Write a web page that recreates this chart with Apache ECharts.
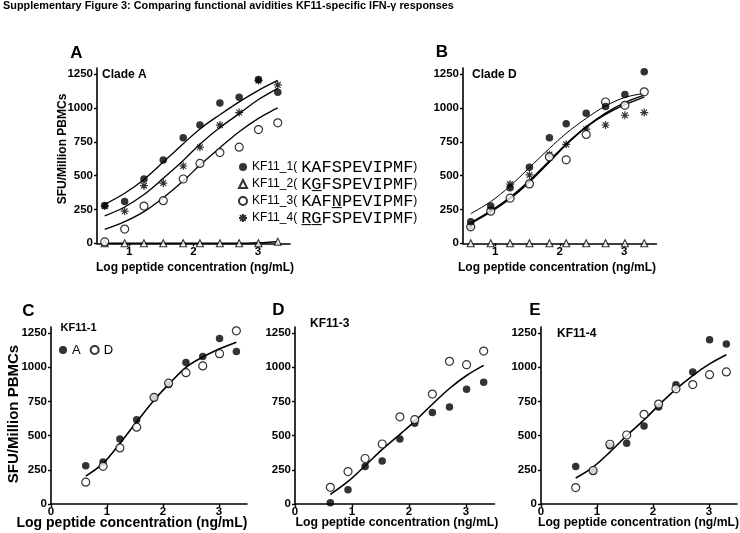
<!DOCTYPE html>
<html><head><meta charset="utf-8">
<script src="https://cdn.jsdelivr.net/npm/echarts@6/dist/echarts.min.js"></script>
<style>html,body{margin:0;padding:0;background:#fff}#c{width:740px;height:533px}</style>
</head><body><div id="c"></div>
<script>
// ---- data ----
const logDose = [0.62, 0.93, 1.23, 1.53, 1.84, 2.1, 2.41, 2.71, 3.01, 3.31];

const cladeA_KF11_1 = [279, 308, 475, 616, 780, 874, 1036, 1079, 1210, 1115];
const cladeA_KF11_2 = [0, 0, 0, 0, 0, 0, 0, 0, 0, 12];
const cladeA_KF11_3 = [10, 105, 275, 315, 475, 590, 670, 710, 840, 890];
const cladeA_KF11_4 = [275, 237, 426, 445, 571, 710, 873, 966, 1202, 1170];

const cladeD_KF11_1 = [160, 276, 410, 562, 780, 884, 961, 1010, 1100, 1267];
const cladeD_KF11_2 = [0, 0, 0, 0, 0, 0, 0, 0, 0, 0];
const cladeD_KF11_3 = [122, 237, 333, 439, 638, 617, 804, 1044, 1019, 1119];
const cladeD_KF11_4 = [120, 245, 437, 505, 656, 731, 843, 874, 946, 966];

// fitted curves at each dose
const fitA_KF11_1 = [288, 370, 472, 600, 735, 845, 950, 1045, 1130, 1203];
const fitA_KF11_2 = [0, 0, 0, 0, 0, 0, 0, 0, 4, 12];
const fitA_KF11_3 = [103, 160, 234, 337, 460, 578, 706, 824, 923, 1001];
const fitA_KF11_4 = [202, 268, 360, 480, 612, 732, 855, 958, 1062, 1145];
const fitD_KF11_1 = [219, 308, 423, 559, 701, 812, 923, 1014, 1078, 1107];
const fitD_KF11_3 = [146, 232, 330, 452, 600, 728, 860, 962, 1040, 1095];
const fitD_KF11_4 = [152, 240, 340, 464, 610, 734, 858, 952, 1024, 1080];
const fitKF11_1 = [204, 297, 443, 601, 759, 875, 1000, 1075, 1136, 1184];
const fitKF11_3 = [70, 165, 280, 400, 510, 605, 730, 845, 940, 1014];
const fitKF11_4 = [190, 270, 380, 500, 615, 722, 840, 940, 1025, 1092];

const yTicks = [0, 250, 500, 750, 1000, 1250];
const xTicksAB = [1, 2, 3];
const xTicksCDE = [0, 1, 2, 3];

const peptideNames = ['KF11_1', 'KF11_2', 'KF11_3', 'KF11_4'];
const peptideSeqs = ['KAFSPEVIPMF', 'KGFSPEVIPMF', 'KAFNPEVIPMF', 'RGFSPEVIPMF'];
const underlinedPos = [[], [1], [3], [0, 1]];
const cladeNames = ['A', 'D'];

// ---- helpers ----
const SANS = 'Liberation Sans, Arial, sans-serif';
const pts = (ys) => logDose.map((x, i) => [x, ys[i]]);
const ASTER = 'path://M0,-5L0,5M-5,0L5,0M-3.6,-3.6L3.6,3.6M-3.6,3.6L3.6,-3.6';

const sym = {
  filled: { symbol: 'circle', symbolSize: 7.5, itemStyle: { color: '#000', borderWidth: 0 } },
  tri: { symbol: 'triangle', symbolSize: 7, itemStyle: { color: '#fff', borderColor: '#000', borderWidth: 1.1 } },
  open: { symbol: 'circle', symbolSize: 8, itemStyle: { color: '#fff', borderColor: '#000', borderWidth: 1.2 } },
  star: { symbol: ASTER, symbolSize: 8, itemStyle: { color: '#000', borderColor: '#000', borderWidth: 1.2 } }
};

function scatter(name, ys, g, s) {
  return Object.assign({ type: 'scatter', name: name, data: pts(ys), xAxisIndex: g, yAxisIndex: g, z: 5, clip: false }, s);
}
function fit(ys, g, w) {
  return { type: 'line', name: 'fit', data: pts(ys), xAxisIndex: g, yAxisIndex: g, smooth: 0.35,
    showSymbol: false, symbol: 'none', lineStyle: { color: '#000', width: w || 1.3 }, z: 3, silent: true };
}

const grids = [
  { left: 97, top: 68, width: 193, height: 175.3 },
  { left: 463, top: 68, width: 193.5, height: 175.3 },
  { left: 51, top: 327, width: 196, height: 177 },
  { left: 295, top: 327, width: 199.5, height: 177 },
  { left: 541, top: 327, width: 196, height: 177 }
].map(g => Object.assign({ containLabel: false, outerBoundsMode: 'none' }, g));

const plain = (v) => String(v);
const axisLine = { show: true, onZero: false, lineStyle: { color: '#000', width: 1.6 } };
function xAxis(i) {
  const ab = i < 2;
  const ticks = ab ? xTicksAB : xTicksCDE;
  return { type: 'value', gridIndex: i, min: ab ? 0.5 : 0, max: 3.5,
    axisLine: axisLine, splitLine: { show: false },
    axisTick: { show: true, length: 3, customValues: ticks, lineStyle: { color: '#000', width: 1.4 } },
    axisLabel: { customValues: ticks, formatter: plain, margin: ab ? 3 : 2, color: '#000', fontWeight: 'bold', fontSize: 11.5, fontFamily: SANS } };
}
function yAxis(i) {
  return { type: 'value', gridIndex: i, min: 0, max: 1295,
    axisLine: axisLine, splitLine: { show: false },
    axisTick: { show: true, length: 3, customValues: yTicks, lineStyle: { color: '#000', width: 1.4 } },
    axisLabel: { customValues: yTicks, formatter: plain, margin: 4, color: '#000', fontWeight: 'bold', fontSize: 11.5, fontFamily: SANS } };
}

const series = [
  // Panel A (clade A)
  fit(fitA_KF11_1, 0), fit(fitA_KF11_2, 0, 1.6), fit(fitA_KF11_3, 0), fit(fitA_KF11_4, 0),
  scatter('KF11_1', cladeA_KF11_1, 0, sym.filled),
  scatter('KF11_2', cladeA_KF11_2, 0, sym.tri),
  scatter('KF11_3', cladeA_KF11_3, 0, sym.open),
  scatter('KF11_4', cladeA_KF11_4, 0, sym.star),
  // Panel B (clade D)
  fit(fitD_KF11_1, 1, 1.0), fit(fitD_KF11_3, 1, 1.4), fit(fitD_KF11_4, 1, 1.4),
  scatter('KF11_2', cladeD_KF11_2, 1, sym.tri),
  scatter('KF11_4', cladeD_KF11_4, 1, sym.star),
  scatter('KF11_3', cladeD_KF11_3, 1, sym.open),
  scatter('KF11_1', cladeD_KF11_1, 1, sym.filled),
  // Panel C KF11-1
  fit(fitKF11_1, 2, 1.6),
  scatter(cladeNames[0], cladeA_KF11_1, 2, sym.filled),
  scatter(cladeNames[1], cladeD_KF11_1, 2, sym.open),
  // Panel D KF11-3
  fit(fitKF11_3, 3, 1.6),
  scatter(cladeNames[0], cladeA_KF11_3, 3, sym.filled),
  scatter(cladeNames[1], cladeD_KF11_3, 3, sym.open),
  // Panel E KF11-4
  fit(fitKF11_4, 4, 1.6),
  scatter(cladeNames[0], cladeA_KF11_4, 4, sym.filled),
  scatter(cladeNames[1], cladeD_KF11_4, 4, sym.open)
];

function seqText(i) {
  let out = '';
  const s = peptideSeqs[i];
  for (let k = 0; k < s.length; k++) out += s[k] + (underlinedPos[i].indexOf(k) >= 0 ? '\u0332' : '');
  return out;
}

function txt(x, y, text, size, opts) {
  return Object.assign({ type: 'text', x: x, y: y, silent: true,
    style: Object.assign({ text: text, fill: '#000', fontFamily: SANS, fontSize: size, fontWeight: 'bold',
      align: 'center', verticalAlign: 'middle' }, (opts && opts.style) || {}) },
    (opts && opts.rotation) ? { rotation: opts.rotation } : {});
}

const graphics = [
  txt(3, 6, 'Supplementary Figure 3: Comparing functional avidities KF11-specific IFN-\u03b3 responses', 10.9, { style: { align: 'left' } }),
  txt(76.5, 53, 'A', 17), txt(442, 52.5, 'B', 17), txt(28.5, 311.5, 'C', 17), txt(278.5, 310.5, 'D', 17), txt(535, 310.5, 'E', 17),
  txt(102, 74.5, 'Clade A', 12, { style: { align: 'left' } }),
  txt(472, 75, 'Clade D', 12, { style: { align: 'left' } }),
  txt(60.5, 327.5, 'KF11-1', 11, { style: { align: 'left' } }),
  txt(310, 324, 'KF11-3', 12, { style: { align: 'left' } }),
  txt(557, 334, 'KF11-4', 12, { style: { align: 'left' } }),
  txt(63, 149, 'SFU/Million PBMCs', 12, { rotation: Math.PI / 2 }),
  txt(14, 414, 'SFU/Million PBMCs', 15, { rotation: Math.PI / 2 }),
  txt(195, 268, 'Log peptide concentration (ng/mL)', 12),
  txt(557, 268, 'Log peptide concentration (ng/mL)', 12),
  txt(132, 523, 'Log peptide concentration (ng/mL)', 14),
  txt(397, 523, 'Log peptide concentration (ng/mL)', 12.3),
  txt(638.5, 523, 'Log peptide concentration (ng/mL)', 12.2)
];

const option = {
  animation: false,
  backgroundColor: '#fff',
  grid: grids,
  xAxis: [0, 1, 2, 3, 4].map(xAxis),
  yAxis: [0, 1, 2, 3, 4].map(yAxis),
  legend: [
    { data: peptideNames, orient: 'vertical', left: 238, top: 158.5, itemWidth: 8, itemHeight: 8, itemGap: 0,
      padding: 0, selectedMode: false,
      formatter: function (name) { const i = peptideNames.indexOf(name); return '{s|' + name + '(}{m|' + seqText(i) + '}{s|)}'; },
      textStyle: { color: '#000', rich: {
        s: { fontFamily: SANS, fontSize: 12, lineHeight: 17, color: '#000' },
        m: { fontFamily: 'Liberation Mono, monospace', fontSize: 17, lineHeight: 17, color: '#000', padding: [0, 0, 0, 4] } } } },
    { data: cladeNames, orient: 'horizontal', left: 59, top: 343, itemWidth: 8, itemHeight: 8, itemGap: 9,
      padding: 0, selectedMode: false,
      textStyle: { color: '#000', fontFamily: SANS, fontSize: 13, lineHeight: 14 } }
  ],
  series: series,
  graphic: graphics
};

const chart = echarts.init(document.getElementById('c'), null, { renderer: 'canvas' });
chart.setOption(option);
</script>
</body></html>
